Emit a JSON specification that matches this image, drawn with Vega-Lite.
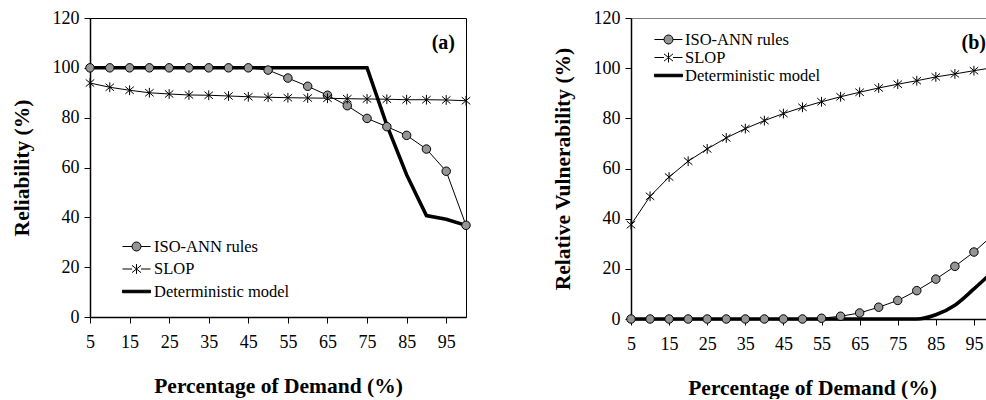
{
  "$schema": "https://vega.github.io/schema/vega-lite/v6.json",
  "padding": {"left": 10, "top": 8, "right": 0, "bottom": 0},
  "config": {
    "font": "serif",
    "view": {"stroke": "#000", "strokeWidth": 1},
    "axis": {
      "labelFont": "serif", "labelFontSize": 18, "labelColor": "#000",
      "titleFont": "Liberation Serif", "titleFontSize": 21.5, "titleFontWeight": "bold", "titleColor": "#000",
      "tickColor": "#000", "domainColor": "#000", "domainWidth": 1.5, "tickWidth": 1, "tickSize": 6,
      "grid": false, "labelFlush": false
    },
    "legend": {"labelFont": "serif", "labelColor": "#000"}
  },
  "datasets": {
    "rel": [
      {"series": "ISO-ANN rules", "x": 5, "y": 100}, {"series": "ISO-ANN rules", "x": 10, "y": 100}, {"series": "ISO-ANN rules", "x": 15, "y": 100}, {"series": "ISO-ANN rules", "x": 20, "y": 100},
      {"series": "ISO-ANN rules", "x": 25, "y": 100}, {"series": "ISO-ANN rules", "x": 30, "y": 100}, {"series": "ISO-ANN rules", "x": 35, "y": 100}, {"series": "ISO-ANN rules", "x": 40, "y": 100},
      {"series": "ISO-ANN rules", "x": 45, "y": 100}, {"series": "ISO-ANN rules", "x": 50, "y": 99.1}, {"series": "ISO-ANN rules", "x": 55, "y": 95.9}, {"series": "ISO-ANN rules", "x": 60, "y": 92.6},
      {"series": "ISO-ANN rules", "x": 65, "y": 89.0}, {"series": "ISO-ANN rules", "x": 70, "y": 84.8}, {"series": "ISO-ANN rules", "x": 75, "y": 79.7}, {"series": "ISO-ANN rules", "x": 80, "y": 76.4},
      {"series": "ISO-ANN rules", "x": 85, "y": 72.9}, {"series": "ISO-ANN rules", "x": 90, "y": 67.4}, {"series": "ISO-ANN rules", "x": 95, "y": 58.5}, {"series": "ISO-ANN rules", "x": 100, "y": 36.8},
      {"series": "SLOP", "x": 5, "y": 93.9}, {"series": "SLOP", "x": 10, "y": 92.2}, {"series": "SLOP", "x": 15, "y": 91.0}, {"series": "SLOP", "x": 20, "y": 90.0},
      {"series": "SLOP", "x": 25, "y": 89.5}, {"series": "SLOP", "x": 30, "y": 89.1}, {"series": "SLOP", "x": 35, "y": 89.0}, {"series": "SLOP", "x": 40, "y": 88.7},
      {"series": "SLOP", "x": 45, "y": 88.4}, {"series": "SLOP", "x": 50, "y": 88.2}, {"series": "SLOP", "x": 55, "y": 88.0}, {"series": "SLOP", "x": 60, "y": 87.9},
      {"series": "SLOP", "x": 65, "y": 87.8}, {"series": "SLOP", "x": 70, "y": 87.6}, {"series": "SLOP", "x": 75, "y": 87.5}, {"series": "SLOP", "x": 80, "y": 87.4},
      {"series": "SLOP", "x": 85, "y": 87.2}, {"series": "SLOP", "x": 90, "y": 87.2}, {"series": "SLOP", "x": 95, "y": 87.1}, {"series": "SLOP", "x": 100, "y": 86.8},
      {"series": "Deterministic model", "x": 5, "y": 100}, {"series": "Deterministic model", "x": 10, "y": 100}, {"series": "Deterministic model", "x": 15, "y": 100}, {"series": "Deterministic model", "x": 20, "y": 100},
      {"series": "Deterministic model", "x": 25, "y": 100}, {"series": "Deterministic model", "x": 30, "y": 100}, {"series": "Deterministic model", "x": 35, "y": 100}, {"series": "Deterministic model", "x": 40, "y": 100},
      {"series": "Deterministic model", "x": 45, "y": 100}, {"series": "Deterministic model", "x": 50, "y": 100}, {"series": "Deterministic model", "x": 55, "y": 100}, {"series": "Deterministic model", "x": 60, "y": 100},
      {"series": "Deterministic model", "x": 65, "y": 100}, {"series": "Deterministic model", "x": 70, "y": 100}, {"series": "Deterministic model", "x": 75, "y": 100}, {"series": "Deterministic model", "x": 80, "y": 77.0},
      {"series": "Deterministic model", "x": 85, "y": 57.1}, {"series": "Deterministic model", "x": 90, "y": 40.7}, {"series": "Deterministic model", "x": 95, "y": 39.2}, {"series": "Deterministic model", "x": 100, "y": 36.8}
    ],
    "vul": [
      {"series": "ISO-ANN rules", "x": 5, "y": 0}, {"series": "ISO-ANN rules", "x": 10, "y": 0}, {"series": "ISO-ANN rules", "x": 15, "y": 0}, {"series": "ISO-ANN rules", "x": 20, "y": 0},
      {"series": "ISO-ANN rules", "x": 25, "y": 0}, {"series": "ISO-ANN rules", "x": 30, "y": 0}, {"series": "ISO-ANN rules", "x": 35, "y": 0}, {"series": "ISO-ANN rules", "x": 40, "y": 0},
      {"series": "ISO-ANN rules", "x": 45, "y": 0}, {"series": "ISO-ANN rules", "x": 50, "y": 0}, {"series": "ISO-ANN rules", "x": 55, "y": 0.3}, {"series": "ISO-ANN rules", "x": 60, "y": 1.1},
      {"series": "ISO-ANN rules", "x": 65, "y": 2.4}, {"series": "ISO-ANN rules", "x": 70, "y": 4.7}, {"series": "ISO-ANN rules", "x": 75, "y": 7.4}, {"series": "ISO-ANN rules", "x": 80, "y": 11.3},
      {"series": "ISO-ANN rules", "x": 85, "y": 15.9}, {"series": "ISO-ANN rules", "x": 90, "y": 21.0}, {"series": "ISO-ANN rules", "x": 95, "y": 26.7}, {"series": "ISO-ANN rules", "x": 100, "y": 33.5},
      {"series": "SLOP", "x": 5, "y": 37.6}, {"series": "SLOP", "x": 10, "y": 48.9}, {"series": "SLOP", "x": 15, "y": 56.6}, {"series": "SLOP", "x": 20, "y": 62.9},
      {"series": "SLOP", "x": 25, "y": 67.8}, {"series": "SLOP", "x": 30, "y": 72.2}, {"series": "SLOP", "x": 35, "y": 75.9}, {"series": "SLOP", "x": 40, "y": 79.1},
      {"series": "SLOP", "x": 45, "y": 81.9}, {"series": "SLOP", "x": 50, "y": 84.4}, {"series": "SLOP", "x": 55, "y": 86.6}, {"series": "SLOP", "x": 60, "y": 88.6},
      {"series": "SLOP", "x": 65, "y": 90.4}, {"series": "SLOP", "x": 70, "y": 92.1}, {"series": "SLOP", "x": 75, "y": 93.6}, {"series": "SLOP", "x": 80, "y": 95.0},
      {"series": "SLOP", "x": 85, "y": 96.5}, {"series": "SLOP", "x": 90, "y": 97.7}, {"series": "SLOP", "x": 95, "y": 99.0}, {"series": "SLOP", "x": 100, "y": 100.2},
      {"series": "Deterministic model", "x": 5, "y": 0}, {"series": "Deterministic model", "x": 10, "y": 0}, {"series": "Deterministic model", "x": 15, "y": 0}, {"series": "Deterministic model", "x": 20, "y": 0},
      {"series": "Deterministic model", "x": 25, "y": 0}, {"series": "Deterministic model", "x": 30, "y": 0}, {"series": "Deterministic model", "x": 35, "y": 0}, {"series": "Deterministic model", "x": 40, "y": 0},
      {"series": "Deterministic model", "x": 45, "y": 0}, {"series": "Deterministic model", "x": 50, "y": 0}, {"series": "Deterministic model", "x": 55, "y": 0}, {"series": "Deterministic model", "x": 60, "y": 0},
      {"series": "Deterministic model", "x": 65, "y": 0}, {"series": "Deterministic model", "x": 70, "y": 0}, {"series": "Deterministic model", "x": 75, "y": 0}, {"series": "Deterministic model", "x": 80, "y": 0},
      {"series": "Deterministic model", "x": 85, "y": 1.7}, {"series": "Deterministic model", "x": 90, "y": 5.5}, {"series": "Deterministic model", "x": 95, "y": 12.0}, {"series": "Deterministic model", "x": 100, "y": 19.0}
    ]
  },
  "hconcat": [
    {
      "width": 376, "height": 299,
      "data": {"name": "rel"},
      "title": {"text": "(a)", "anchor": "end", "frame": "group", "orient": "top", "offset": 0, "dx": -11, "dy": 60, "baseline": "alphabetic", "font": "Liberation Serif", "fontSize": 20, "fontWeight": "bold", "color": "#000"},
      "encoding": {
        "x": {"field": "x", "type": "quantitative", "scale": {"domain": [5, 100], "nice": false, "zero": false},
              "axis": {"title": "Percentage of Demand (%)", "values": [5, 15, 25, 35, 45, 55, 65, 75, 85, 95], "labelPadding": 10, "titlePadding": 24}},
        "y": {"field": "y", "type": "quantitative", "scale": {"domain": [0, 120], "nice": false},
              "axis": {"title": "Reliability (%)", "values": [0, 20, 40, 60, 80, 100, 120], "labelPadding": 5, "titlePadding": 19}}
      },
      "layer": [
        {"transform": [{"filter": "datum.series === 'Deterministic model'"}],
         "mark": {"type": "line", "color": "#000", "strokeWidth": 3.5}},
        {"transform": [{"filter": "datum.series !== 'Deterministic model'"}],
         "mark": {"type": "line", "color": "#000", "strokeWidth": 1},
         "encoding": {"detail": {"field": "series"}}},
        {"transform": [{"filter": "datum.series !== 'Deterministic model'"}],
         "mark": {"type": "point", "fill": "#959595", "stroke": "#000", "strokeWidth": 1, "opacity": 1, "fillOpacity": 1, "size": 72},
         "encoding": {"shape": {"field": "series", "type": "nominal", "legend": null,
           "scale": {"domain": ["ISO-ANN rules", "SLOP"], "range": ["circle", "M-1,-0.85L1,0.85M-1,0.85L1,-0.85M0,-1.15V1.15"]}}}},
        {"transform": [{"filter": "datum.x > 1000"}],
         "mark": {"type": "point", "strokeWidth": 1, "opacity": 1, "fillOpacity": 1, "filled": true},
         "encoding": {
           "shape": {"field": "series", "type": "nominal",
             "scale": {"domain": ["ISO-ANN rules", "SLOP", "Deterministic model"],
                       "range": ["M-1.56,0H-0.5M0.5,0H1.56M-0.5,0A0.5,0.5 0 1,1 0.5,0A0.5,0.5 0 1,1 -0.5,0Z",
                                 "M-1.56,0H-0.5M0.5,0H1.56M-0.5,-0.4L0.5,0.4M-0.5,0.4L0.5,-0.4M0,-0.55V0.55",
                                 "M-1.56,-0.14H1.56V0.14H-1.56Z"]},
             "legend": {"orient": "none", "legendX": 37, "legendY": 219, "title": null, "padding": 0, "symbolSize": 324, "labelFontSize": 16.5, "labelOffset": 8, "rowPadding": 4.5, "symbolStrokeWidth": 1, "labelFont": "serif"}},
           "fill": {"field": "series", "type": "nominal",
             "scale": {"domain": ["ISO-ANN rules", "SLOP", "Deterministic model"], "range": ["#959595", "#000", "#000"]},
             "legend": {"orient": "none", "legendX": 37, "legendY": 219, "title": null, "padding": 0, "symbolSize": 324, "labelFontSize": 16.5, "labelOffset": 8, "rowPadding": 4.5, "symbolStrokeWidth": 1, "labelFont": "serif"}},
           "stroke": {"field": "series", "type": "nominal",
             "scale": {"domain": ["ISO-ANN rules", "SLOP", "Deterministic model"], "range": ["#000", "#000", "#000"]},
             "legend": {"orient": "none", "legendX": 37, "legendY": 219, "title": null, "padding": 0, "symbolSize": 324, "labelFontSize": 16.5, "labelOffset": 8, "rowPadding": 4.5, "symbolStrokeWidth": 1, "labelFont": "serif"}}
         }}
      ],
      "resolve": {"scale": {"shape": "independent", "fill": "independent", "stroke": "independent"}, "legend": {"shape": "independent", "fill": "independent", "stroke": "independent"}}
    },
    {
      "width": 362, "height": 301,
      "data": {"name": "vul"},
      "view": {"stroke": "#808080", "strokeWidth": 1},
      "title": {"text": "(b)", "anchor": "end", "frame": "group", "orient": "top", "offset": 0, "dx": -7, "dy": 60, "baseline": "alphabetic", "font": "Liberation Serif", "fontSize": 20, "fontWeight": "bold", "color": "#000"},
      "encoding": {
        "x": {"field": "x", "type": "quantitative", "scale": {"domain": [5, 100], "nice": false, "zero": false},
              "axis": {"title": "Percentage of Demand (%)", "values": [5, 15, 25, 35, 45, 55, 65, 75, 85, 95], "labelPadding": 10, "titlePadding": 24}},
        "y": {"field": "y", "type": "quantitative", "scale": {"domain": [0, 120], "nice": false},
              "axis": {"title": "Relative Vulnerability (%)", "values": [0, 20, 40, 60, 80, 100, 120], "labelPadding": 5, "titlePadding": 19}}
      },
      "layer": [
        {"transform": [{"filter": "datum.series === 'Deterministic model'"}],
         "mark": {"type": "line", "color": "#000", "strokeWidth": 3.5, "interpolate": "monotone"}},
        {"transform": [{"filter": "datum.series !== 'Deterministic model'"}],
         "mark": {"type": "line", "color": "#000", "strokeWidth": 1},
         "encoding": {"detail": {"field": "series"}}},
        {"transform": [{"filter": "datum.series !== 'Deterministic model'"}],
         "mark": {"type": "point", "fill": "#959595", "stroke": "#000", "strokeWidth": 1, "opacity": 1, "fillOpacity": 1, "size": 72},
         "encoding": {"shape": {"field": "series", "type": "nominal", "legend": null,
           "scale": {"domain": ["ISO-ANN rules", "SLOP"], "range": ["circle", "M-1,-0.85L1,0.85M-1,0.85L1,-0.85M0,-1.15V1.15"]}}}},
        {"transform": [{"filter": "datum.x > 1000"}],
         "mark": {"type": "point", "strokeWidth": 1, "opacity": 1, "fillOpacity": 1, "filled": true},
         "encoding": {
           "shape": {"field": "series", "type": "nominal",
             "scale": {"domain": ["ISO-ANN rules", "SLOP", "Deterministic model"],
                       "range": ["M-1.56,0H-0.5M0.5,0H1.56M-0.5,0A0.5,0.5 0 1,1 0.5,0A0.5,0.5 0 1,1 -0.5,0Z",
                                 "M-1.56,0H-0.5M0.5,0H1.56M-0.5,-0.4L0.5,0.4M-0.5,0.4L0.5,-0.4M0,-0.55V0.55",
                                 "M-1.56,-0.14H1.56V0.14H-1.56Z"]},
             "legend": {"orient": "none", "legendX": 28, "legendY": 12, "title": null, "padding": 0, "symbolSize": 324, "labelFontSize": 16.5, "labelOffset": 7, "rowPadding": 0, "symbolStrokeWidth": 1, "labelFont": "serif"}},
           "fill": {"field": "series", "type": "nominal",
             "scale": {"domain": ["ISO-ANN rules", "SLOP", "Deterministic model"], "range": ["#959595", "#000", "#000"]},
             "legend": {"orient": "none", "legendX": 28, "legendY": 12, "title": null, "padding": 0, "symbolSize": 324, "labelFontSize": 16.5, "labelOffset": 7, "rowPadding": 0, "symbolStrokeWidth": 1, "labelFont": "serif"}},
           "stroke": {"field": "series", "type": "nominal",
             "scale": {"domain": ["ISO-ANN rules", "SLOP", "Deterministic model"], "range": ["#000", "#000", "#000"]},
             "legend": {"orient": "none", "legendX": 28, "legendY": 12, "title": null, "padding": 0, "symbolSize": 324, "labelFontSize": 16.5, "labelOffset": 7, "rowPadding": 0, "symbolStrokeWidth": 1, "labelFont": "serif"}}
         }}
      ],
      "resolve": {"scale": {"shape": "independent", "fill": "independent", "stroke": "independent"}, "legend": {"shape": "independent", "fill": "independent", "stroke": "independent"}}
    }
  ],
  "spacing": 77,
  "resolve": {"scale": {"shape": "independent", "fill": "independent", "stroke": "independent"}, "legend": {"shape": "independent", "fill": "independent", "stroke": "independent"}}
}
